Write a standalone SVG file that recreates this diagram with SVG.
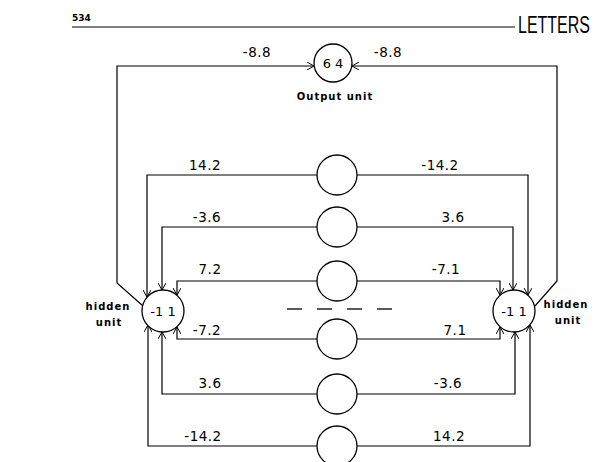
<svg xmlns="http://www.w3.org/2000/svg" width="597" height="462" viewBox="0 0 597 462">
<style>
.c{fill:#fff;stroke:#000;stroke-width:1.3}
.w{fill:none;stroke:#000;stroke-width:1.2}
.lab{font-family:"DejaVu Sans",sans-serif;font-size:13.5px;text-anchor:middle;fill:#000;letter-spacing:0.5px}
.sm{font-family:"DejaVu Sans",sans-serif;font-size:10px;font-weight:bold;text-anchor:middle;fill:#000;letter-spacing:1px}
.in{font-family:"DejaVu Sans",sans-serif;font-size:13px;text-anchor:middle;fill:#000}
</style>
<defs>
<marker id="ah" viewBox="0 0 8 8" refX="7" refY="4" markerWidth="8" markerHeight="8" markerUnits="userSpaceOnUse" orient="auto">
<path d="M0,0 L7,4 L0,8" fill="none" stroke="#000" stroke-width="1"/>
</marker>
</defs>
<g id="header">
<text x="72" y="21" font-family="DejaVu Sans,sans-serif" font-size="9" font-weight="bold">534</text>
<line x1="72" y1="27" x2="515" y2="27" stroke="#000" stroke-width="1.2"/>
<text transform="translate(518,33) scale(0.8,1.15)" font-family="Liberation Sans,sans-serif" font-size="20">LETTERS</text>
</g>
<g id="connectors">
<path class="w" d="M143,306 L117,283 V66 H314" marker-end="url(#ah)"/>
<path class="w" d="M535,306 L557,281 V66 H352" marker-end="url(#ah)"/>
<path class="w" d="M317,175 H147 V297" marker-end="url(#ah)"/>
<path class="w" d="M317,227 H162 V290" marker-end="url(#ah)"/>
<path class="w" d="M317,281 H177 V295" marker-end="url(#ah)"/>
<path class="w" d="M317,339 H177 V327" marker-end="url(#ah)"/>
<path class="w" d="M317,394 H162 V332" marker-end="url(#ah)"/>
<path class="w" d="M317,446 H148 V325" marker-end="url(#ah)"/>
<path class="w" d="M357,175 H528 V295" marker-end="url(#ah)"/>
<path class="w" d="M357,227 H513 V290" marker-end="url(#ah)"/>
<path class="w" d="M357,281 H500 V295" marker-end="url(#ah)"/>
<path class="w" d="M357,339 H500 V327" marker-end="url(#ah)"/>
<path class="w" d="M357,394 H515 V332" marker-end="url(#ah)"/>
<path class="w" d="M357,446 H530 V325" marker-end="url(#ah)"/>
<g stroke="#000" stroke-width="1.3">
<line x1="287" y1="309" x2="302" y2="309"/>
<line x1="317" y1="309" x2="332" y2="309"/>
<line x1="347" y1="309" x2="362" y2="309"/>
<line x1="377" y1="309" x2="392" y2="309"/>
</g>
<text class="lab" x="257" y="57">-8.8</text>
<text class="lab" x="388" y="57">-8.8</text>
<text class="lab" x="205" y="170">14.2</text>
<text class="lab" x="207" y="222">-3.6</text>
<text class="lab" x="210" y="274">7.2</text>
<text class="lab" x="207" y="335">-7.2</text>
<text class="lab" x="210" y="388">3.6</text>
<text class="lab" x="203" y="441">-14.2</text>
<text class="lab" x="440" y="170">-14.2</text>
<text class="lab" x="453" y="222">3.6</text>
<text class="lab" x="446" y="274">-7.1</text>
<text class="lab" x="455" y="335">7.1</text>
<text class="lab" x="448" y="388">-3.6</text>
<text class="lab" x="449" y="441">14.2</text>
</g>
<g id="output-unit">
<circle class="c" cx="333" cy="63" r="19"/>
<text class="in" x="333" y="68">6 4</text>
<text class="sm" x="335" y="100">Output unit</text>
</g>
<g id="hidden-left">
<circle class="c" cx="163" cy="311" r="21"/>
<text class="in" x="163" y="316">-1 1</text>
<text class="sm" x="108" y="310">hidden</text>
<text class="sm" x="109" y="326">unit</text>
</g>
<g id="hidden-right">
<circle class="c" cx="514" cy="311" r="21"/>
<text class="in" x="514" y="316">-1 1</text>
<text class="sm" x="566" y="308">hidden</text>
<text class="sm" x="568" y="324">unit</text>
</g>
<g id="inputs">
<circle class="c" cx="337" cy="175" r="20"/>
<circle class="c" cx="337" cy="227" r="20"/>
<circle class="c" cx="337" cy="281" r="20"/>
<circle class="c" cx="337" cy="339" r="20"/>
<circle class="c" cx="337" cy="394" r="20"/>
<circle class="c" cx="337" cy="446" r="20"/>
</g>
</svg>
